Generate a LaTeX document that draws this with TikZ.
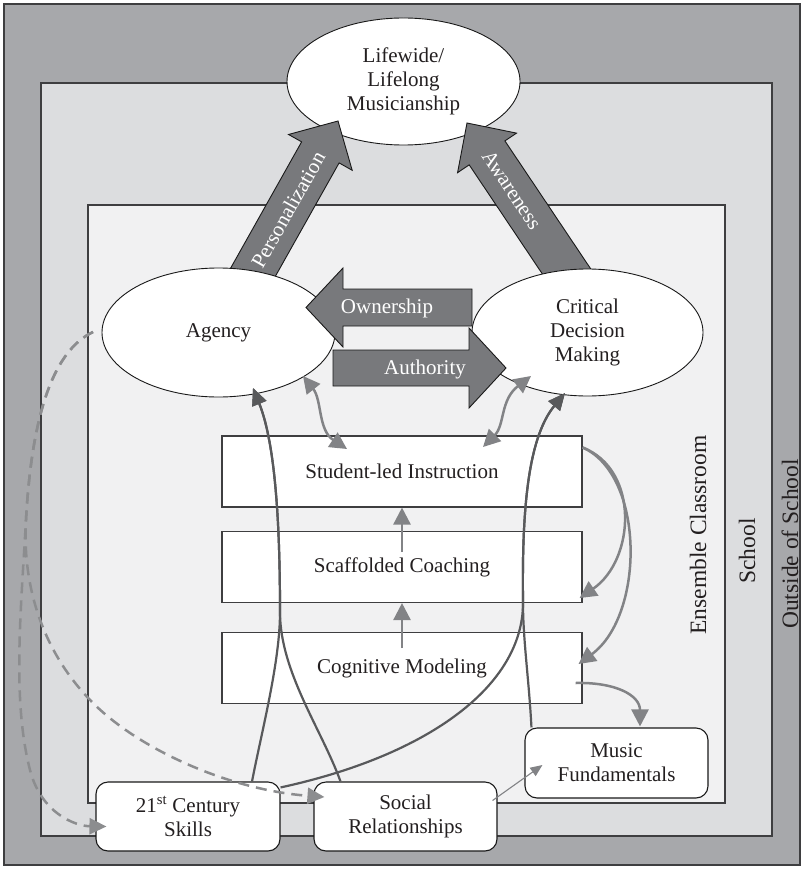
\documentclass[tikz,border=0pt]{standalone}
\usepackage{fontspec}
\setmainfont{Liberation Serif}
\usetikzlibrary{arrows.meta,calc,shapes.geometric}

\definecolor{cOuter}{RGB}{167,168,171}
\definecolor{cSchool}{RGB}{220,221,223}
\definecolor{cClass}{RGB}{241,241,242}
\definecolor{cFrame}{RGB}{62,62,64}
\definecolor{cArrow}{RGB}{120,121,124}
\definecolor{cDark}{RGB}{88,89,91}
\definecolor{cLight}{RGB}{130,131,134}
\definecolor{cDash}{RGB}{140,141,143}
\definecolor{cInk}{RGB}{35,31,32}

% broad outlined arrow: #1 base, #2 tip, #3 half shaft width, #4 half head width, #5 head length
\newcommand\fatarrow[5]{%
  \path ($(#2)!#5!(#1)$) coordinate (fa-h);
  \filldraw[fill=cArrow,draw=black!90,line width=0.9pt,line join=miter]
    ($(#1)!#3!90:(#2)$) -- ($(fa-h)!#3!90:(#2)$) -- ($(fa-h)!#4!90:(#2)$) -- (#2)
    -- ($(fa-h)!#4!-90:(#2)$) -- ($(fa-h)!#3!-90:(#2)$) -- ($(#1)!#3!-90:(#2)$) -- cycle;}

\begin{document}
\begin{tikzpicture}[x=1pt,y=-1pt,
  font=\fontsize{21}{24}\selectfont, text=cInk,
  zone/.style={draw=cFrame,line width=1.4pt},
  oval/.style={ellipse,draw=black!90,fill=white,line width=0.9pt,inner sep=0pt,align=center},
  stagebox/.style={draw=cFrame,fill=white,line width=1.1pt,minimum width=360pt,minimum height=71pt,inner sep=0pt},
  factor/.style={draw=black!90,fill=white,rounded corners=12pt,line width=1.1pt,minimum width=183pt,minimum height=69pt,inner sep=0pt,align=center},
  zonelabel/.style={rotate=90,font=\fontsize{23.5}{28}\selectfont},
  arrowtext/.style={text=white},
  darkpath/.style={draw=cDark,line width=2.2pt,arrows={-Triangle[length=17pt,width=15pt]}},
  lightpath/.style={draw=cLight,line width=2.5pt,arrows={-Triangle[length=17pt,width=17pt]}},
  twoway/.style={draw=cLight,line width=2.5pt,arrows={Triangle[length=17pt,width=17pt]-Triangle[length=17pt,width=17pt]}},
  dashpath/.style={draw=cDash,line width=2.5pt,dash pattern=on 11pt off 7pt,arrows={-Triangle[length=17pt,width=16pt]}},
  thinpath/.style={draw=cLight,line width=1.1pt,arrows={-Triangle[length=12pt,width=10pt]}}
]
\useasboundingbox (0,0) rectangle (804,869);

% nested settings
\draw[zone,fill=cOuter] (4,4) rectangle (800,865);
\draw[zone,fill=cSchool] (41,83) rectangle (772,836);
\draw[zone,fill=cClass,line width=1.2pt] (88,205) rectangle (725,803);

\node[zonelabel] (lbl-class) at (698,535) {Ensemble Classroom};
\node[zonelabel] (lbl-school) at (747,551) {School};
\node[zonelabel] (lbl-outside) at (790,544) {Outside of School};

% outcome
\node[oval,minimum width=233pt,minimum height=127pt] (life) at (403.5,81.5) {Lifewide/\\Lifelong\\Musicianship};

% paths towards the outcome
\coordinate (pers-a) at (243,290);
\coordinate (pers-b) at (338,121);
\coordinate (aw-a) at (579,290);
\coordinate (aw-b) at (467,123);
\fatarrow{pers-a}{pers-b}{21.5pt}{36.5pt}{36pt}
\fatarrow{aw-a}{aw-b}{21.5pt}{35.5pt}{36pt}
\path (pers-a) -- (pers-b) node[arrowtext,sloped,pos=0.475] (pers-t) {Personalization};
\path (aw-a) -- (aw-b) node[arrowtext,sloped,pos=0.6] (aw-t) {Awareness};

% the two student qualities
\node[oval,minimum width=233pt,minimum height=129pt] (agency) at (218.5,332.5) {Agency};
\node[oval,minimum width=231pt,minimum height=127pt] (critical) at (587.5,332.5) {Critical\\Decision\\Making};

% exchange between them
\coordinate (own-a) at (472,307.5);
\coordinate (own-b) at (306,307.5);
\coordinate (auth-a) at (333,368);
\coordinate (auth-b) at (506,368);
\fatarrow{own-a}{own-b}{18.5pt}{39.5pt}{37pt}
\fatarrow{auth-a}{auth-b}{18pt}{40pt}{37pt}
\node[arrowtext,anchor=base] (own-t) at (387,313) {Ownership};
\node[arrowtext,anchor=base] (auth-t) at (425,374) {Authority};

% instructional stages
\node[stagebox] (stu) at (402,471.5) {Student-led Instruction};
\node[stagebox] (scaf) at (402,567) {Scaffolded Coaching};
\node[stagebox] (cog) at (402,668) {Cognitive Modeling};

% contributing factors
\node[factor,minimum width=184pt] (c21) at (188,816.5) {21\textsuperscript{st} Century\\Skills};
\node[factor] (soc) at (405.5,816.5) {Social\\Relationships};
\node[factor,minimum height=70pt] (mus) at (616.5,763) {Music\\Fundamentals};

% progression between stages
\draw[lightpath] ([yshift=20pt]cog.center) -- (scaf.south);
\draw[lightpath] ([yshift=15pt]scaf.center) -- (stu.south);

\coordinate (stu-out) at ($(stu.north east)+(0,12)$);
\draw[lightpath] (stu-out) .. controls (640,470) and (635,560) .. ($(scaf.south east)+(-3,-5)$);
\draw[lightpath] (stu-out) .. controls (645,475) and (645,615) .. ($(cog.east)+(-4,-4)$);
\draw[lightpath] ($(cog.east)+(-7,15)$) .. controls (615,682) and (640,695) .. ($(mus.north)+(23.5,-1)$);

% two-way links with the qualities
\coordinate (ag-bi) at (303,376);
\coordinate (stu-bi-l) at (347,449);
\coordinate (stu-bi-r) at (483,447);
\coordinate (cr-bi) at (531,376);
\draw[twoway] (ag-bi) .. controls (322,400) and (318,430) .. (stu-bi-l);
\draw[twoway] (stu-bi-r) .. controls (505,425) and (500,400) .. (cr-bi);

% factors feeding the qualities
\coordinate (ag-in) at (253,388);
\coordinate (cr-in) at (565,393);
\coordinate (jA) at (280,612);
\coordinate (jB) at (523,603);
\draw[darkpath] ([xshift=64pt]c21.north) .. controls (262,730) and (280,662) .. (jA) .. controls (280,530) and (276,445) .. (ag-in);
\draw[darkpath] ([xshift=-65pt]soc.north) .. controls (322,730) and (280,672) .. (jA) .. controls (280,530) and (276,445) .. (ag-in);
\draw[darkpath] ($(c21.north east)+(0,6)$) .. controls (430,755) and (523,685) .. (jB) .. controls (522,520) and (526,440) .. (cr-in);
\draw[darkpath] ($(mus.north west)+(7,0)$) .. controls (529,680) and (523,640) .. (jB) .. controls (522,520) and (526,440) .. (cr-in);

% agency reaching outward
\coordinate (ag-dash) at (93,332);
\coordinate (dash-split) at (26,520);
\draw[dashpath] (ag-dash) .. controls (55,350) and (32,410) .. (dash-split)
  .. controls (21,610) and (12,700) .. (30,770) .. controls (41,813) and (75,826) .. ($(c21.west)+(11,10)$);
\draw[dashpath] (ag-dash) .. controls (55,350) and (32,410) .. (dash-split)
  .. controls (22,590) and (45,655) .. (93,703) .. controls (140,750) and (230,790) .. ($(soc.west)+(11,-19.5)$);

\draw[thinpath] ($(soc.east)+(-5,-16)$) -- ($(mus.west)+(18,2)$);
\end{tikzpicture}
\end{document}
